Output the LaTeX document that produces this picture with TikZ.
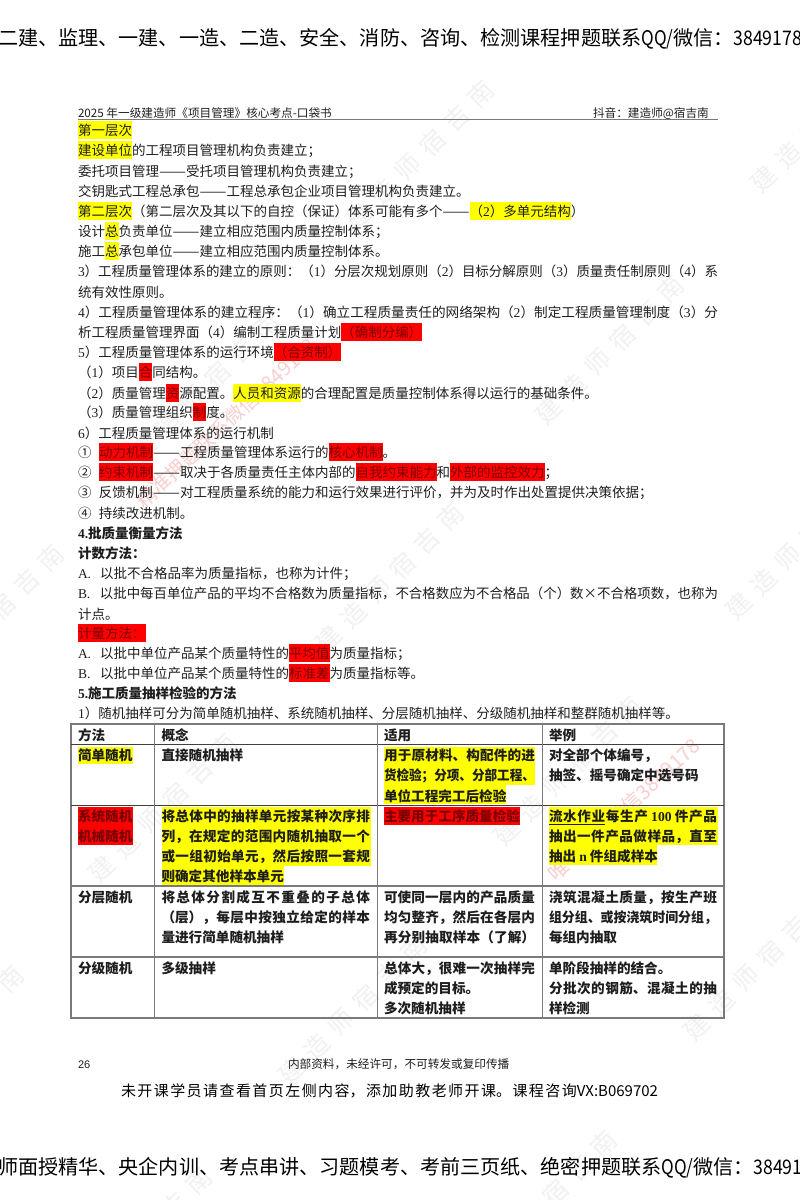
\documentclass[tikz,border=0pt]{standalone}
\usepackage{fontspec}
\usepackage{xcolor}
\usepackage{graphicx}
\newfontfamily\cjk{Noto Sans CJK SC}
\newfontfamily\latf{Liberation Serif}
\newfontfamily\lats{Liberation Sans}
\XeTeXlinebreaklocale "zh"
\XeTeXlinebreakskip=0pt plus 4pt
\hbadness=10000
\hfuzz=20pt
\setlength\fboxsep{0pt}
\definecolor{ink}{HTML}{1E1E1E}
\definecolor{dkred}{HTML}{7A0000}
\definecolor{hly}{HTML}{FFFF00}
\definecolor{hlr}{HTML}{FF0000}
\definecolor{wmgray}{HTML}{F1F1F1}
\definecolor{wmpink}{HTML}{F8CFCF}
\definecolor{rulegray}{HTML}{7A7A7A}
\definecolor{ruledark}{HTML}{3F3F3F}
\newcommand\hy[1]{\colorbox{hly}{\rule[-4pt]{0pt}{18pt}#1}}
\newcommand\hr[1]{\colorbox{hlr}{\rule[-4pt]{0pt}{18pt}\textcolor{dkred}{#1}}}
\newcommand\ltn[1]{{\latf #1}}
\newcommand\pre[1]{\makebox[22pt][l]{\latf #1}}
\newcommand\circlepre[1]{\makebox[21pt][l]{#1}}
\newcommand\dd{\resizebox{27pt}{\height}{——}}
\newcounter{tn}
\newcommand\TX[4][]{\stepcounter{tn}\node[txt,#1] (t\arabic{tn}) at (#2,#3+5) {#4};}
\newcommand\JL[5][]{\stepcounter{tn}\node[txt,#1] (t\arabic{tn}) at (#2,#3+5) {\parbox[b]{#4}{\parfillskip=0pt\noindent #5}};}
\newcommand\JR[4]{\stepcounter{tn}\node[txt] (t\arabic{tn}) at (#1,#2+5) {\resizebox{#3}{\height}{#4}};}
\newcommand\BL[5]{\fill[#1] (#2,#3) rectangle (#4,#5);}
\newcommand\WMG[2]{\stepcounter{tn}\node[wmg] (t\arabic{tn}) at (#1,#2) {建\hspace{9.5pt}造\hspace{9.5pt}师\hspace{9.5pt}宿\hspace{9.5pt}吉\hspace{9.5pt}南};}
\tikzset{
  txt/.style={anchor=base west,inner sep=0pt,outer sep=0pt,text=ink,font=\cjk\fontsize{13.5}{16}\selectfont},
  tbl/.style={font=\cjk\bfseries\fontsize{13.6}{16}\selectfont},
  bold/.style={font=\cjk\bfseries\fontsize{13.5}{16}\selectfont},
  banner/.style={anchor=base west,inner sep=0pt,text=black,font=\cjk\fontsize{20.1}{23}\selectfont},
  small/.style={font=\cjk\fontsize{11.65}{14}\selectfont},
  wmg/.style={inner sep=0pt,rotate=45,text=wmgray,font=\cjk\fontsize{25}{28}\selectfont},
  wmp/.style={inner sep=0pt,text=wmpink,font=\cjk\fontsize{20}{24}\selectfont},
  hline/.style={draw=ruledark,line width=1pt},
  gline/.style={draw=rulegray,line width=1.4pt},
}
\begin{document}
\begin{tikzpicture}[x=1pt,y=-1pt]
\useasboundingbox (0,0) rectangle (800,1200);
\fill[white] (0,0) rectangle (800,1200);
\clip (0,0) rectangle (800,1200);

% watermarks
\WMG{420}{155}\WMG{610}{350}\WMG{800}{545}\WMG{825}{118}\WMG{205}{387}\WMG{-10}{619}
\WMG{390}{578}\WMG{568}{771}\WMG{758}{966}\WMG{163}{808}\WMG{353}{1010}\WMG{543}{1205}
\WMG{138}{1242}\WMG{-50}{1040}
\node[wmp,rotate=43] (wmpa) at (226,423) {精准押题联系微信3849178};
\node[wmp,rotate=43] (wmpb) at (624,810) {唯一联系微信3849178};

% banners
\node[banner] (bannertop) at (-2,45) {二建、监理、一建、一造、二造、安全、消防、咨询、检测课程押题联系\scalebox{.85}[1]{QQ/}微信：\scalebox{.88}[1]{3849178}};
\node[banner] (bannerbot) at (-2,1174) {师面授精华、央企内训、考点串讲、习题模考、考前三页纸、绝密押题联系\scalebox{.85}[1]{QQ/}微信：\scalebox{.88}[1]{3849178}};

% page header
\TX[small]{78}{112}{2025 年一级建造师《项目管理》核心考点-口袋书}
\TX[small]{593}{112}{抖音：建造师@宿吉南}
\draw[gline,line width=1.8pt] (78,119.5) -- (718,119.5);

% body
\TX{78}{130}{\hy{第一层次}}
\TX{78}{150}{\hy{建设单位}的工程项目管理机构负责建立；}
\TX{78}{171}{委托项目管理\dd{}受托项目管理机构负责建立；}
\TX{78}{191}{交钥匙式工程总承包\dd{}工程总承包企业项目管理机构负责建立。}
\TX{78}{211}{\hy{第二层次}（第二层次及其以下的自控（保证）体系可能有多个\dd{}\hy{（\ltn{2}）多单元结构}）}
\TX{78}{231}{设计\hy{总}负责单位\dd{}建立相应范围内质量控制体系；}
\TX{78}{251}{施工\hy{总}承包单位\dd{}建立相应范围内质量控制体系。}
\JR{78}{271}{640pt}{\ltn{3}）工程质量管理体系的建立的原则：（\ltn{1}）分层次规划原则（\ltn{2}）目标分解原则（\ltn{3}）质量责任制原则（\ltn{4}）系}
\TX{78}{292}{统有效性原则。}
\JR{78}{312}{640pt}{\ltn{4}）工程质量管理体系的建立程序：（\ltn{1}）确立工程质量责任的网络架构（\ltn{2}）制定工程质量管理制度（\ltn{3}）分}
\TX{78}{332}{析工程质量管理界面（\ltn{4}）编制工程质量计划\hr{（确制分编）}}
\TX{78}{352}{\ltn{5}）工程质量管理体系的运行环境\hr{（合资制）}}
\TX{78}{372}{（\ltn{1}）项目\hr{合}同结构。}
\TX{78}{393}{（\ltn{2}）质量管理\hr{资}源配置。\hy{人员和资源}的合理配置是质量控制体系得以运行的基础条件。}
\TX{78}{412}{（\ltn{3}）质量管理组织\hr{制}度。}
\TX{78}{433}{\ltn{6}）工程质量管理体系的运行机制}
\TX{78}{452}{\circlepre{①}\hr{动力机制}\dd{}工程质量管理体系运行的\hr{核心机制}。}
\TX{78}{472}{\circlepre{②}\hr{约束机制}\dd{}取决于各质量责任主体内部的\hr{自我约束能力}和\hr{外部的监控效力}；}
\TX{78}{492}{\circlepre{③}反馈机制\dd{}对工程质量系统的能力和运行效果进行评价，并为及时作出处置提供决策依据；}
\TX{78}{513}{\circlepre{④}持续改进机制。}
\TX[bold]{78}{533}{\ltn{\bfseries 4.}批质量衡量方法}
\TX[bold]{78}{553}{计数方法：}
\TX{78}{573}{\pre{A.}以批不合格品率为质量指标，也称为计件；}
\JR{78}{593}{640pt}{\pre{B.}以批中每百单位产品的平均不合格数为质量指标，不合格数应为不合格品（个）数×不合格项数，也称为}
\TX{78}{614}{计点。}
\TX{78}{633}{\hr{计量方法：}}
\TX{78}{653}{\pre{A.}以批中单位产品某个质量特性的\hr{平均值}为质量指标；}
\TX{78}{673}{\pre{B.}以批中单位产品某个质量特性的\hr{标准差}为质量指标等。}
\TX[bold]{78}{693}{\ltn{\bfseries 5.}施工质量抽样检验的方法}
\TX{78}{713}{\ltn{1}）随机抽样可分为简单随机抽样、系统随机抽样、分层随机抽样、分级随机抽样和整群随机抽样等。}

% table highlights
\BL{hly}{78}{747}{133}{764}
\BL{hly}{384}{747}{535}{785}
\BL{hly}{384}{785}{506}{804}
\BL{hlr}{78}{807}{133}{845}
\BL{hly}{161.5}{807}{371}{866}
\BL{hly}{161.5}{866}{284}{885}
\BL{hlr}{384}{807}{520}{825}
\BL{hly}{549}{807}{718}{845}
\BL{hly}{549}{845}{657}{865}

% table rules
\draw[gline] (71,724) rectangle (724,1018);
\draw[hline] (71,744) -- (724,744);
\draw[hline] (71,805) -- (724,805);
\draw[gline] (71,886) -- (724,886);
\draw[line width=2pt,draw=rulegray] (71,957) -- (724,957);
\draw[gline,line width=1pt] (154.5,724) -- (154.5,1018);
\draw[gline,line width=1pt] (377,724) -- (377,1018);
\draw[gline,line width=1pt] (542,724) -- (542,1018);

% table header
\TX[tbl]{78}{735}{方法}
\TX[tbl]{161.5}{735}{概念}
\TX[tbl]{384}{735}{适用}
\TX[tbl]{549}{735}{举例}
% row 1
\TX[tbl]{78}{755}{简单随机}
\TX[tbl]{161.5}{755}{直接随机抽样}
\JL[tbl]{384}{755}{151pt}{用于原材料、构配件的进}
\TX[tbl]{384}{775}{\scalebox{.925}[1]{货检验；分项、分部工程、}}
\TX[tbl]{384}{796}{单位工程完工后检验}
\TX[tbl]{549}{755}{对全部个体编号，}
\TX[tbl]{549}{775}{抽签、摇号确定中选号码}
% row 2
\TX[tbl,text=dkred]{78}{816}{系统随机}
\TX[tbl,text=dkred]{78}{836}{机械随机}
\JL[tbl]{161.5}{816}{208.5pt}{将总体中的抽样单元按某种次序排}
\JL[tbl]{161.5}{836}{208.5pt}{列，在规定的范围内随机抽取一个}
\JL[tbl]{161.5}{856}{208.5pt}{或一组初始单元，然后按照一套规}
\TX[tbl]{161.5}{876}{则确定其他样本单元}
\TX[tbl,text=dkred]{384}{816}{主要用于工序质量检验}
\JL[tbl]{549}{816}{168pt}{流水作业每生产 \ltn{\bfseries 100} 件产品}
\draw[draw=ink,line width=.8pt] (549,824) -- (605,824);
\JL[tbl]{549}{836}{168pt}{抽出一件产品做样品，直至}
\TX[tbl]{549}{856}{抽出 \ltn{\bfseries n} 件组成样本}
% row 3
\TX[tbl]{78}{897}{分层随机}
\JL[tbl]{161.5}{897}{208.5pt}{将总体分割成互不重叠的子总体}
\JL[tbl]{161.5}{917}{208.5pt}{（层），每层中按独立给定的样本}
\TX[tbl]{161.5}{937}{量进行简单随机抽样}
\JL[tbl]{384}{897}{151pt}{可使同一层内的产品质量}
\JL[tbl]{384}{917}{151pt}{均匀整齐，然后在各层内}
\JL[tbl]{384}{937}{151pt}{再分别抽取样本（了解）}
\JL[tbl]{549}{897}{168pt}{浇筑混凝土质量，按生产班}
\TX[tbl]{549}{917}{\scalebox{.95}[1]{组分组、或按浇筑时间分组，}}
\TX[tbl]{549}{937}{每组内抽取}
% row 4
\TX[tbl]{78}{968}{分级随机}
\TX[tbl]{161.5}{968}{多级抽样}
\JL[tbl]{384}{968}{151pt}{总体大，很难一次抽样完}
\TX[tbl]{384}{988}{成预定的目标。}
\TX[tbl]{384}{1008}{多次随机抽样}
\TX[tbl]{549}{968}{单阶段抽样的结合。}
\JL[tbl]{549}{988}{168pt}{分批次的钢筋、混凝土的抽}
\TX[tbl]{549}{1008}{样检测}

% footer
\TX[font=\lats\fontsize{11}{13}\selectfont]{78}{1063}{26}
\TX[small]{288}{1063}{内部资料，未经许可，不可转发或复印传播}
\JL[font=\cjk\fontsize{15}{18}\selectfont,text=black]{121}{1091}{537pt}{未开课学员请查看首页左侧内容，添加助教老师开课。课程咨询\mbox{VX:B069702}}
\end{tikzpicture}
\end{document}
